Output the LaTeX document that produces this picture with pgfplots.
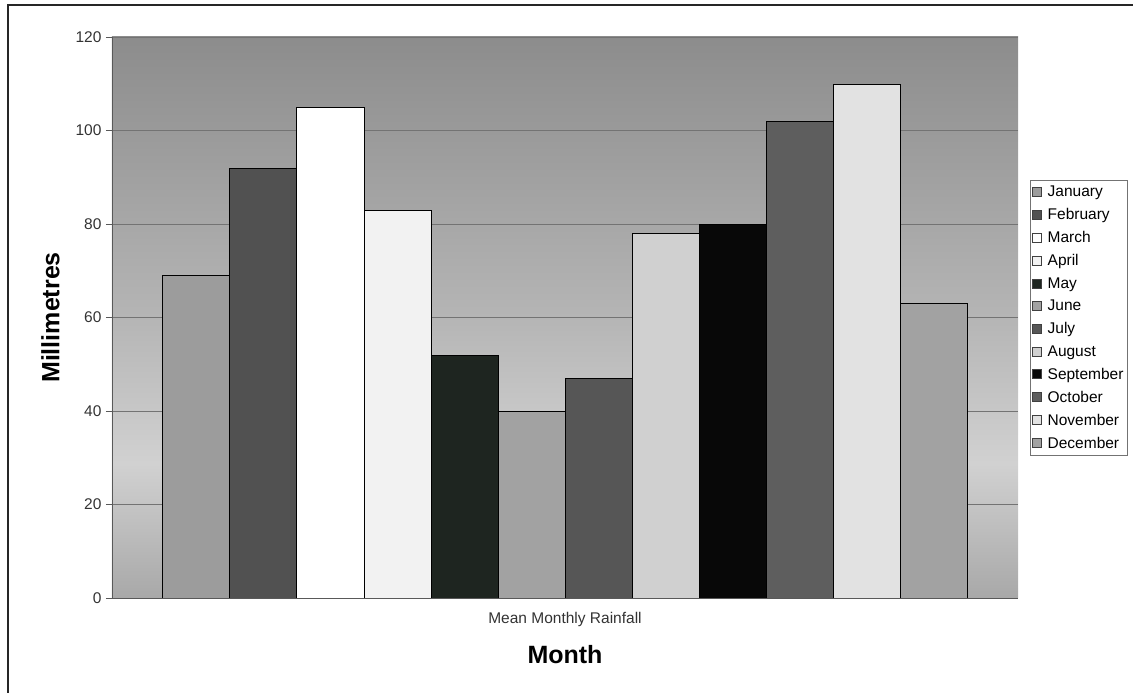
\documentclass[border=0pt]{standalone}
\usepackage{fontspec}
\setmainfont{Liberation Sans}
\usepackage{pgfplots}
\pgfplotsset{compat=1.18}
\definecolor{bgtop}{gray}{0.55}
\definecolor{bgmid}{gray}{0.71}
\definecolor{bglight}{gray}{0.82}
\definecolor{bgbot}{gray}{0.66}
\pgfdeclareverticalshading{plotbg}{100bp}{color(0bp)=(bgbot); color(25bp)=(bgbot); color(37bp)=(bglight); color(50bp)=(bgmid); color(75bp)=(bgtop); color(100bp)=(bgtop)}
\definecolor{cJan}{HTML}{9C9C9C}
\definecolor{cFeb}{HTML}{515151}
\definecolor{cMar}{HTML}{FFFFFF}
\definecolor{cApr}{HTML}{F2F2F2}
\definecolor{cMay}{HTML}{1E2520}
\definecolor{cJun}{HTML}{A2A2A2}
\definecolor{cJul}{HTML}{565656}
\definecolor{cAug}{HTML}{D0D0D0}
\definecolor{cSep}{HTML}{080808}
\definecolor{cOct}{HTML}{5E5E5E}
\definecolor{cNov}{HTML}{E2E2E2}
\definecolor{cDec}{HTML}{A2A2A2}
\begin{document}
\begin{tikzpicture}
\useasboundingbox (-112pt,-95pt) rectangle (1021pt,598pt);
\draw[line width=1.8pt, black!85] (-104pt,-95pt) -- (-104pt,593pt) -- (1021pt,593pt);
\begin{axis}[
  scale only axis, width=906pt, height=561pt,
  ybar=0pt, bar width=67.1pt,
  xmin=-0.5, xmax=0.5, ymin=0, ymax=120,
  xtick={0}, xticklabels={Mean Monthly Rainfall},
  ytick={0,20,...,120},
  /pgf/number format/assume math mode=true,
  axis x line=bottom, axis y line=left,
  axis line style={-, draw=black!65, line width=0.8pt},
  ymajorgrids, grid style={draw=black!55, line width=0.7pt},
  axis background/.style={shading=plotbg},
  xtick style={draw=none},
  ytick style={draw=black!65, line width=0.8pt},
  tick align=outside, major tick length=6pt,
  tick label style={font=\fontsize{15.5}{17}\selectfont, text=black!80},
  xticklabel style={yshift=-5pt},
  yticklabel style={xshift=-1pt},
  xlabel={Month}, ylabel={Millimetres},
  xlabel style={font=\bfseries\fontsize{25}{28}\selectfont, yshift=-12pt},
  ylabel style={font=\bfseries\fontsize{25}{28}\selectfont, yshift=9pt},
  legend image code/.code={\draw[#1, draw=black!75, line width=0.8pt] (0pt,-4.5pt) rectangle (9pt,4.5pt);},
  legend cell align=left,
  legend style={at={(axis description cs:1.0132,0.745)}, anchor=north west,
    draw=black!55, line width=0.8pt, fill=white,
    font=\fontsize{15.5}{17}\selectfont,
    nodes={inner sep=1.5pt}, row sep=7.3pt, inner xsep=2pt, inner ysep=4pt,
    /tikz/every odd column/.append style={column sep=4pt}},
]
\addplot[fill=cJan, draw=black] coordinates {(0,69)};
\addplot[fill=cFeb, draw=black] coordinates {(0,92)};
\addplot[fill=cMar, draw=black] coordinates {(0,105)};
\addplot[fill=cApr, draw=black] coordinates {(0,83)};
\addplot[fill=cMay, draw=black] coordinates {(0,52)};
\addplot[fill=cJun, draw=black] coordinates {(0,40)};
\addplot[fill=cJul, draw=black] coordinates {(0,47)};
\addplot[fill=cAug, draw=black] coordinates {(0,78)};
\addplot[fill=cSep, draw=black] coordinates {(0,80)};
\addplot[fill=cOct, draw=black] coordinates {(0,102)};
\addplot[fill=cNov, draw=black] coordinates {(0,110)};
\addplot[fill=cDec, draw=black] coordinates {(0,63)};
\legend{January,February,March,April,May,June,July,August,September,October,November,December}
\end{axis}
\end{tikzpicture}
\end{document}
